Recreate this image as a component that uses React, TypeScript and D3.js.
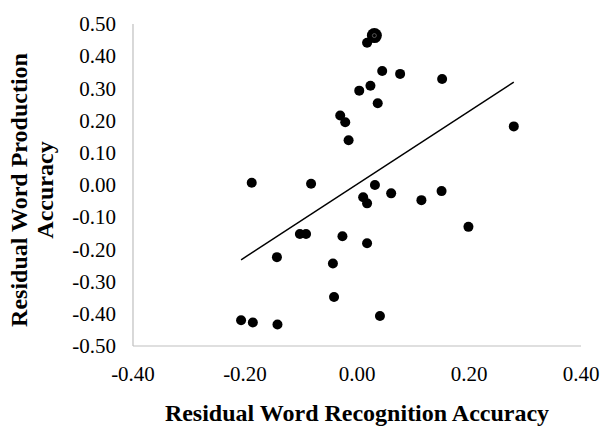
import { useEffect, useRef } from "react";
import * as d3 from "d3";

// residuals (recognition, production)
const recognition = [
  0.031, 0.018, 0.045, 0.077, 0.152, 0.024, 0.004, 0.037, -0.03, -0.021, -0.015,
  0.28, -0.188, -0.082, 0.032, 0.061, 0.151, 0.011, 0.018, 0.115, -0.102, -0.091,
  -0.026, 0.018, 0.199, -0.143, -0.043, -0.041, 0.041, -0.207, -0.186, -0.142,
];
const production = [
  0.464, 0.442, 0.354, 0.345, 0.329, 0.308, 0.293, 0.254, 0.216, 0.195, 0.139,
  0.182, 0.007, 0.004, 0.0, -0.026, -0.019, -0.038, -0.057, -0.047, -0.152, -0.152,
  -0.159, -0.181, -0.13, -0.224, -0.244, -0.348, -0.407, -0.42, -0.427, -0.433,
];
const xTicks = [-0.4, -0.2, 0, 0.2, 0.4];
const yTicks = [0.5, 0.4, 0.3, 0.2, 0.1, 0, -0.1, -0.2, -0.3, -0.4, -0.5];
const xTitle = "Residual Word Recognition Accuracy";
const yTitle = ["Residual Word Production", "Accuracy"];

export default function App() {
  const ref = useRef<SVGSVGElement>(null);

  useEffect(() => {
    const svg = d3.select(ref.current);
    svg.selectAll("*").remove();

    const x = d3.scaleLinear().domain([-0.4, 0.4]).range([133, 581]);
    const y = d3.scaleLinear().domain([-0.5, 0.5]).range([346, 24]);
    const font = "'Times New Roman', 'Liberation Serif', serif";
    const axisColor = "#bfbfbf";
    const fmt = (d: number) => d3.format(".2f")(d).replace("−", "-");

    // axes (no ticks, just the lines and labels)
    svg.append("line")
      .attr("x1", x(-0.4)).attr("x2", x(-0.4))
      .attr("y1", y(0.5)).attr("y2", y(-0.5))
      .attr("stroke", axisColor).attr("stroke-width", 1.2);
    svg.append("line")
      .attr("x1", x(-0.4)).attr("x2", x(0.4))
      .attr("y1", y(-0.5)).attr("y2", y(-0.5))
      .attr("stroke", axisColor).attr("stroke-width", 1.2);

    svg.selectAll(".ytick")
      .data(yTicks)
      .enter()
      .append("text")
      .attr("class", "ytick")
      .attr("x", 116)
      .attr("y", (d) => y(d))
      .attr("dy", "0.34em")
      .attr("text-anchor", "end")
      .attr("font-family", font)
      .attr("font-size", 21)
      .text(fmt);

    svg.selectAll(".xtick")
      .data(xTicks)
      .enter()
      .append("text")
      .attr("class", "xtick")
      .attr("x", (d) => x(d))
      .attr("y", 381)
      .attr("text-anchor", "middle")
      .attr("font-family", font)
      .attr("font-size", 21)
      .text(fmt);

    // titles
    svg.append("text")
      .attr("x", 357)
      .attr("y", 421)
      .attr("text-anchor", "middle")
      .attr("font-family", font)
      .attr("font-weight", "bold")
      .attr("font-size", 24)
      .text(xTitle);

    svg.selectAll(".ytitle")
      .data(yTitle)
      .enter()
      .append("text")
      .attr("class", "ytitle")
      .attr("transform", (_, i) => `translate(${27 + i * 26},190) rotate(-90)`)
      .attr("text-anchor", "middle")
      .attr("font-family", font)
      .attr("font-weight", "bold")
      .attr("font-size", 24)
      .text((d) => d);

    // linear trendline over the data range
    const pts = recognition.map((r, i) => [r, production[i]] as [number, number]);
    const mx = d3.mean(pts, (p) => p[0])!;
    const my = d3.mean(pts, (p) => p[1])!;
    const slope =
      d3.sum(pts, (p) => (p[0] - mx) * (p[1] - my)) /
      d3.sum(pts, (p) => (p[0] - mx) ** 2);
    const icept = my - slope * mx;
    const [x0, x1] = d3.extent(recognition) as [number, number];
    const line = d3.line<number>().x((d) => x(d)).y((d) => y(icept + slope * d));
    svg.append("path")
      .attr("d", line([x0, x1]))
      .attr("fill", "none")
      .attr("stroke", "#000")
      .attr("stroke-width", 1.5);

    // points
    svg.selectAll(".dot")
      .data(pts)
      .enter()
      .append("circle")
      .attr("class", "dot")
      .attr("cx", (d) => x(d[0]))
      .attr("cy", (d) => y(d[1]))
      .attr("r", (_, i) => (i === 0 ? 7.5 : 5))
      .attr("fill", "#000");

    // small ring on the highlighted point
    svg.append("circle")
      .attr("cx", x(pts[0][0]))
      .attr("cy", y(pts[0][1]))
      .attr("r", 2)
      .attr("fill", "none")
      .attr("stroke", "#888")
      .attr("stroke-width", 0.6);
  }, []);

  return (
    <svg
      ref={ref}
      width={601}
      height={426}
      style={{ position: "absolute", left: 0, top: 0, background: "#fff" }}
    />
  );
}
